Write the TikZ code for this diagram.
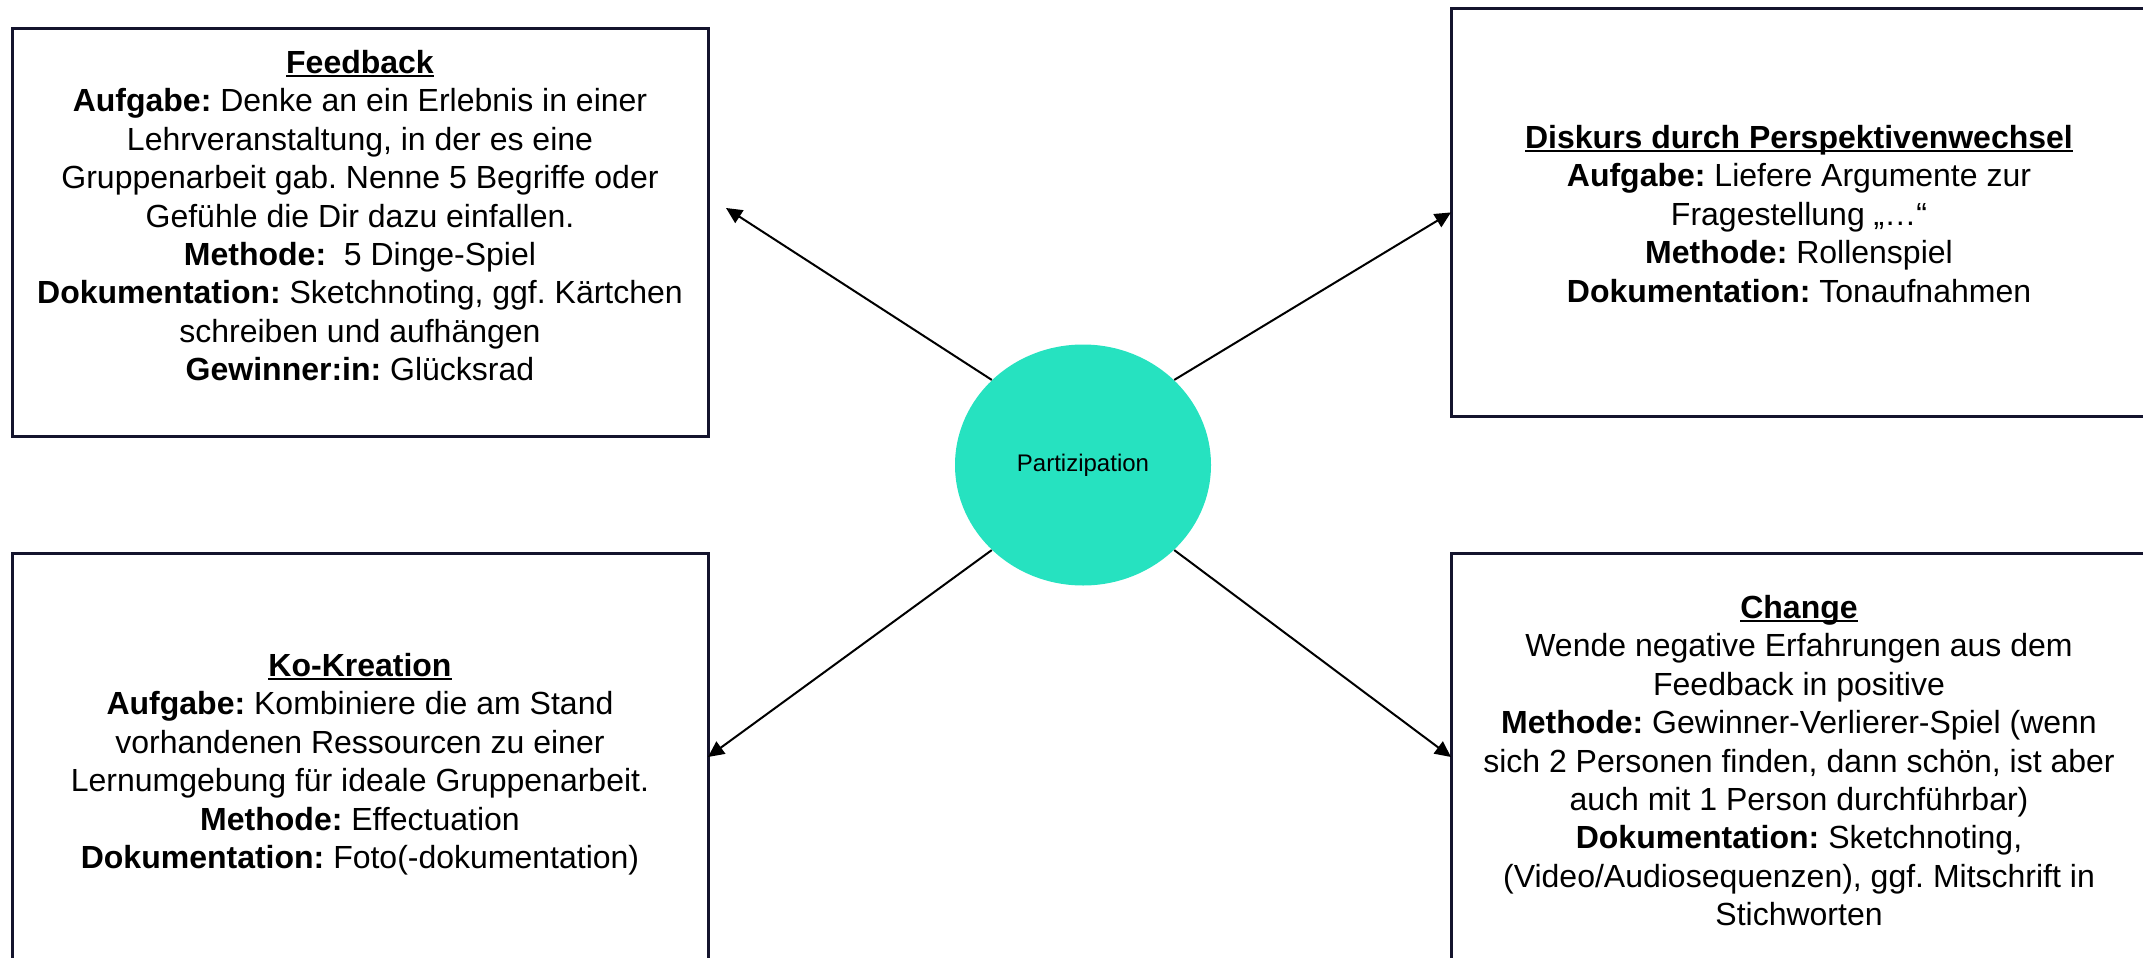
\documentclass[tikz,border=0pt]{standalone}
\usepackage{fontspec}
\setmainfont{Liberation Sans}
\usetikzlibrary{arrows.meta,shapes.geometric}
\definecolor{boxcol}{RGB}{20,20,45}
\definecolor{tealfill}{RGB}{38,226,192}
\newcommand\myul[1]{\setbox0\hbox{#1}\rlap{\rule[-0.11em]{\wd0}{0.07em}}\box0}
\frenchspacing
\begin{document}
\begin{tikzpicture}[x=0.5pt,y=-0.5pt,
  infobox/.style={draw=boxcol, line width=1.5pt, fill=white, minimum width=348pt, minimum height=204pt, inner sep=0pt, outer sep=0pt},
  infotext/.style={align=center, inner sep=0pt, anchor=north, font=\fontsize{16pt}{19.2pt}\selectfont},
  link/.style={line width=1pt, -{Triangle[length=8pt,width=7.5pt]}}]
\useasboundingbox (0,0) rectangle (2143,958);
\node[infobox] (fb) at (360,232) {};
\node[infobox] (dk) at (1799,212.4) {};
\node[infobox] (ko) at (360,757) {};
\node[infobox] (ch) at (1799,757) {};
\node[infotext] (fbtext) at (360,50) {\myul{\textbf{Feedback}}\\
\textbf{Aufgabe:} Denke an ein Erlebnis in einer\\
Lehrveranstaltung, in der es eine\\
Gruppenarbeit gab. Nenne 5 Begriffe oder\\
Gefühle die Dir dazu einfallen.\\
\textbf{Methode:}~ 5 Dinge-Spiel\\
\textbf{Dokumentation:} Sketchnoting, ggf. Kärtchen\\
schreiben und aufhängen\\
\textbf{Gewinner:in:} Glücksrad};
\node[infotext] (dktext) at (1799,125) {\myul{\textbf{Diskurs durch Perspektivenwechsel}}\\
\textbf{Aufgabe:} Liefere Argumente zur\\
Fragestellung „…“\\
\textbf{Methode:} Rollenspiel\\
\textbf{Dokumentation:} Tonaufnahmen};
\node[infotext] (kotext) at (360,653) {\myul{\textbf{Ko-Kreation}}\\
\textbf{Aufgabe:} Kombiniere die am Stand\\
vorhandenen Ressourcen zu einer\\
Lernumgebung für ideale Gruppenarbeit.\\
\textbf{Methode:} Effectuation\\
\textbf{Dokumentation:} Foto(-dokumentation)};
\node[infotext] (chtext) at (1799,595) {\myul{\textbf{Change}}\\
Wende negative Erfahrungen aus dem\\
Feedback in positive\\
\textbf{Methode:} Gewinner-Verlierer-Spiel (wenn\\
sich 2 Personen finden, dann schön, ist aber\\
auch mit 1 Person durchführbar)\\
\textbf{Dokumentation:} Sketchnoting,\\
(Video/Audiosequenzen), ggf. Mitschrift in\\
Stichworten};
\node[ellipse, fill=tealfill, minimum width=128pt, minimum height=120.5pt, inner sep=0pt, font=\fontsize{12pt}{14pt}\selectfont] (part) at (1083,465) {Partizipation};
\coordinate (fbtip) at (726,208);
\draw[link] (part.137) -- (fbtip);
\draw[link] (part.43) -- (dk.west);
\draw[link] (part.223) -- (ko.east);
\draw[link] (part.317) -- (ch.west);
\end{tikzpicture}
\end{document}
